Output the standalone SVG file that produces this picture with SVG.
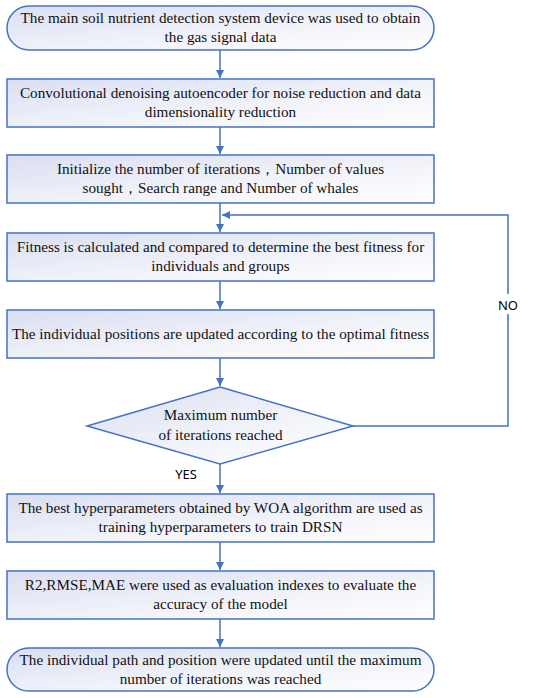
<svg xmlns="http://www.w3.org/2000/svg" width="550" height="698" viewBox="0 0 550 698">
<defs>
<linearGradient id="g" x1="0" y1="0" x2="1" y2="1">
<stop offset="0" stop-color="#d9def2"/>
<stop offset="0.6" stop-color="#f3f4fa"/>
<stop offset="1" stop-color="#ffffff"/>
</linearGradient>
<marker id="a" markerWidth="10" markerHeight="10" refX="8" refY="5" orient="auto" markerUnits="userSpaceOnUse">
<path d="M0,1 L8,5 L0,9 Z" fill="#4472c4"/>
</marker>
<style>
.n{fill:url(#g);stroke:#4472c4;stroke-width:1.5}
.t{font-family:"Liberation Serif","Times New Roman",serif;font-size:15.2px;fill:#111;text-anchor:middle}
.l{font-family:"Noto Sans","Liberation Sans",sans-serif;font-size:13px;fill:#000;text-anchor:middle}
.c{fill:none;stroke:#4472c4;stroke-width:1.5;marker-end:url(#a)}
</style>
</defs>
<rect width="550" height="698" fill="#fff"/>
<g id="connectors">
<path class="c" d="M220,50 V78"/>
<path class="c" d="M220,127 V154"/>
<path class="c" d="M220,203 V232"/>
<path class="c" d="M220,281 V309"/>
<path class="c" d="M220,358 V386"/>
<path class="c" d="M220,464 V493"/>
<path class="c" d="M220,542 V570"/>
<path class="c" d="M220,619 V647"/>
<path class="c" d="M353,426 H508 V215 H222"/>
</g>
<g id="n1"><rect class="n" x="7" y="6" width="427" height="44" rx="22"/>
<text class="t" x="220.5" y="23">The main soil nutrient detection system device was used to obtain</text>
<text class="t" x="220.5" y="42">the gas signal data</text></g>
<g id="n2"><rect class="n" x="7" y="79" width="427" height="48"/>
<text class="t" x="220.5" y="98">Convolutional denoising autoencoder for noise reduction and data</text>
<text class="t" x="220.5" y="117">dimensionality reduction</text></g>
<g id="n3"><rect class="n" x="7" y="155" width="427" height="48"/>
<text class="t" x="220.5" y="174">Initialize the number of iterations，Number of values</text>
<text class="t" x="220.5" y="193">sought，Search range and Number of whales</text></g>
<g id="n4"><rect class="n" x="7" y="233" width="427" height="48"/>
<text class="t" x="220.5" y="252">Fitness is calculated and compared to determine the best fitness for</text>
<text class="t" x="220.5" y="271">individuals and groups</text></g>
<g id="n5"><rect class="n" x="7" y="310" width="427" height="48"/>
<text class="t" x="220.5" y="339">The individual positions are updated according to the optimal fitness</text></g>
<g id="n6"><polygon class="n" points="220,387 353,426 220,464 87,426"/>
<text class="t" x="220.5" y="420">Maximum number</text>
<text class="t" x="220.5" y="440">of iterations reached</text></g>
<g id="n7"><rect class="n" x="7" y="494" width="427" height="48"/>
<text class="t" x="220.5" y="513">The best hyperparameters obtained by WOA algorithm are used as</text>
<text class="t" x="220.5" y="532">training hyperparameters to train DRSN</text></g>
<g id="n8"><rect class="n" x="7" y="571" width="427" height="48"/>
<text class="t" x="220.5" y="590">R2,RMSE,MAE were used as evaluation indexes to evaluate the</text>
<text class="t" x="220.5" y="609">accuracy of the model</text></g>
<g id="n9"><rect class="n" x="7" y="648" width="427" height="43" rx="21.5"/>
<text class="t" x="220.5" y="665">The individual path and position were updated until the maximum</text>
<text class="t" x="220.5" y="684">number of iterations was reached</text></g>
<rect x="497" y="294" width="22" height="20" fill="#fff"/>
<text class="l" x="508" y="310">NO</text>
<text class="l" x="186" y="479">YES</text>
</svg>
